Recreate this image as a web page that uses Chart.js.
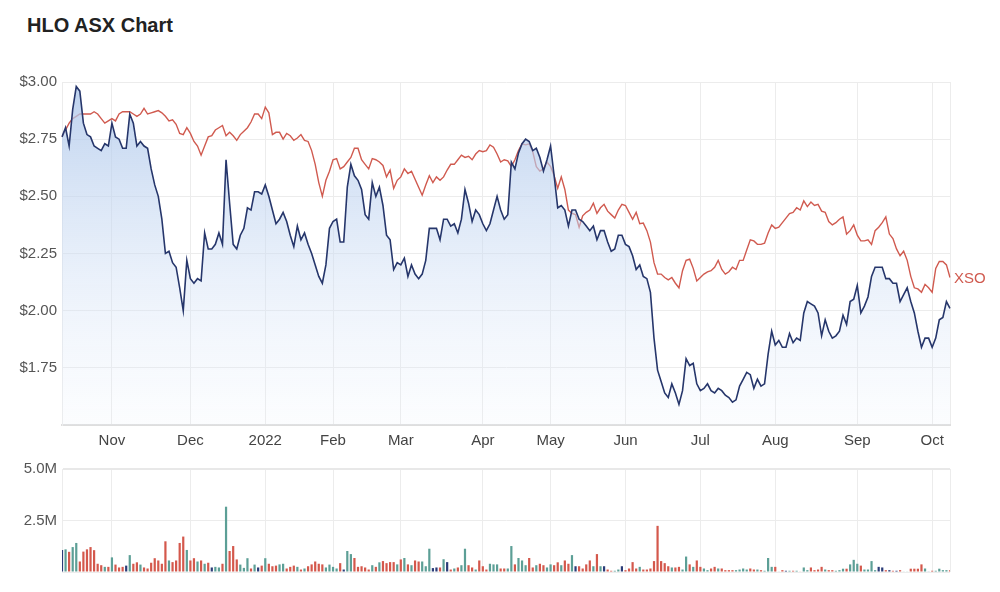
<!DOCTYPE html>
<html>
<head>
<meta charset="utf-8">
<script src="https://cdn.jsdelivr.net/npm/chart.js@4/dist/chart.umd.min.js"></script>
<style>
  body { margin: 0; background: #fff; width: 1000px; height: 592px; overflow: hidden; position: relative; }
  h1 { position: absolute; left: 27px; top: 14px; margin: 0; font: bold 20px "Liberation Sans", Arial, sans-serif; color: #222; }
  #priceBox { position: absolute; left: 0; top: 0; width: 1000px; height: 460px; }
  #volBox { position: absolute; left: 0; top: 455px; width: 1000px; height: 137px; }
</style>
</head>
<body>
<h1>HLO ASX Chart</h1>
<div id="priceBox"><canvas id="priceChart"></canvas></div>
<div id="volBox"><canvas id="volChart"></canvas></div>
<script>
// daily closes, Oct 2021 - Oct 2022 (trading days)
const hlo = [
  2.76, 2.80, 2.72, 2.88, 2.98, 2.96, 2.82, 2.77, 2.76, 2.72,
  2.71, 2.70, 2.73, 2.72, 2.82, 2.76, 2.75, 2.71, 2.71, 2.86,
  2.82, 2.72, 2.74, 2.72, 2.71, 2.62, 2.55, 2.50, 2.40, 2.25,
  2.26, 2.21, 2.19, 2.10, 2.00, 2.22, 2.14, 2.12, 2.14, 2.13,
  2.34, 2.27, 2.27, 2.29, 2.34, 2.29, 2.66, 2.47, 2.29, 2.27,
  2.33, 2.36, 2.45, 2.44, 2.52, 2.52, 2.51, 2.55, 2.50, 2.44,
  2.38, 2.40, 2.43, 2.39, 2.33, 2.28, 2.37, 2.31, 2.34, 2.29,
  2.25, 2.20, 2.15, 2.12, 2.20, 2.36, 2.39, 2.40, 2.30, 2.30,
  2.54, 2.64, 2.59, 2.57, 2.53, 2.42, 2.40, 2.56, 2.50, 2.54,
  2.46, 2.33, 2.31, 2.18, 2.21, 2.20, 2.23, 2.15, 2.20, 2.16,
  2.14, 2.16, 2.22, 2.36, 2.36, 2.36, 2.31, 2.40, 2.40, 2.37,
  2.38, 2.34, 2.40, 2.53, 2.47, 2.39, 2.44, 2.42, 2.38, 2.35,
  2.38, 2.44, 2.50, 2.44, 2.40, 2.42, 2.65, 2.62, 2.69, 2.73,
  2.75, 2.74, 2.70, 2.71, 2.67, 2.61, 2.66, 2.72, 2.59, 2.45,
  2.46, 2.44, 2.37, 2.44, 2.44, 2.40, 2.39, 2.37, 2.35, 2.37,
  2.31, 2.35, 2.35, 2.30, 2.26, 2.27, 2.33, 2.33, 2.29, 2.28,
  2.24, 2.18, 2.20, 2.15, 2.14, 2.08, 1.88, 1.74, 1.69, 1.64,
  1.62, 1.68, 1.64, 1.59, 1.65, 1.79, 1.76, 1.77, 1.68, 1.65,
  1.66, 1.68, 1.65, 1.64, 1.66, 1.65, 1.63, 1.62, 1.60, 1.61,
  1.67, 1.70, 1.73, 1.72, 1.66, 1.70, 1.67, 1.68, 1.81, 1.91,
  1.85, 1.87, 1.84, 1.84, 1.90, 1.86, 1.88, 1.87, 1.99, 2.04,
  2.03, 2.02, 1.99, 1.89, 1.96, 1.91, 1.88, 1.89, 1.91, 1.98,
  1.94, 2.04, 2.05, 2.11, 1.99, 2.02, 2.06, 2.15, 2.19, 2.19,
  2.19, 2.14, 2.14, 2.12, 2.12, 2.04, 2.07, 2.10, 2.04, 1.99,
  1.91, 1.84, 1.88, 1.88, 1.84, 1.88, 1.96, 1.97, 2.04, 2.01
];

// XSO index, rebased to HLO start price
const xso = [
  2.76, 2.79, 2.82, 2.84, 2.85, 2.86, 2.86, 2.86, 2.86, 2.87,
  2.86, 2.84, 2.82, 2.83, 2.84, 2.83, 2.86, 2.87, 2.87, 2.87,
  2.86, 2.85, 2.86, 2.885, 2.86, 2.865, 2.87, 2.875, 2.865, 2.85,
  2.83, 2.835, 2.815, 2.775, 2.77, 2.80, 2.775, 2.74, 2.72, 2.68,
  2.72, 2.76, 2.765, 2.79, 2.80, 2.81, 2.765, 2.78, 2.765, 2.745,
  2.77, 2.785, 2.80, 2.825, 2.86, 2.86, 2.84, 2.89, 2.865, 2.77,
  2.78, 2.78, 2.75, 2.775, 2.765, 2.745, 2.755, 2.77, 2.745, 2.74,
  2.70, 2.64, 2.56, 2.50, 2.57, 2.61, 2.66, 2.665, 2.62, 2.63,
  2.65, 2.67, 2.71, 2.71, 2.66, 2.64, 2.62, 2.665, 2.66, 2.65,
  2.635, 2.585, 2.615, 2.535, 2.57, 2.585, 2.62, 2.60, 2.61, 2.575,
  2.54, 2.505, 2.55, 2.59, 2.56, 2.585, 2.57, 2.585, 2.615, 2.64,
  2.64, 2.66, 2.68, 2.67, 2.675, 2.66, 2.685, 2.70, 2.695, 2.70,
  2.725, 2.715, 2.685, 2.65, 2.66, 2.655, 2.63, 2.66, 2.70, 2.73,
  2.725, 2.73, 2.695, 2.63, 2.61, 2.62, 2.65, 2.63, 2.59, 2.535,
  2.585, 2.53, 2.44, 2.425, 2.42, 2.365, 2.415, 2.43, 2.44, 2.47,
  2.425, 2.45, 2.465, 2.435, 2.42, 2.405, 2.44, 2.465, 2.46, 2.43,
  2.40, 2.43, 2.38, 2.383, 2.35, 2.30, 2.21, 2.16, 2.16, 2.145,
  2.135, 2.145, 2.12, 2.10, 2.175, 2.22, 2.225, 2.185, 2.13, 2.145,
  2.16, 2.17, 2.175, 2.19, 2.22, 2.18, 2.16, 2.17, 2.19, 2.18,
  2.22, 2.22, 2.265, 2.31, 2.305, 2.29, 2.29, 2.295, 2.34, 2.375,
  2.36, 2.365, 2.385, 2.405, 2.425, 2.43, 2.45, 2.44, 2.48, 2.455,
  2.475, 2.46, 2.465, 2.435, 2.43, 2.39, 2.375, 2.385, 2.40, 2.41,
  2.335, 2.35, 2.375, 2.33, 2.305, 2.305, 2.31, 2.29, 2.35, 2.365,
  2.385, 2.41, 2.335, 2.315, 2.27, 2.24, 2.26, 2.22, 2.15, 2.10,
  2.095, 2.08, 2.115, 2.10, 2.08, 2.185, 2.215, 2.215, 2.20, 2.145
];

// daily volume, millions of shares
const volume = [
  1.07, 1.10, 0.98, 1.21, 1.41, 0.51, 0.99, 1.10, 1.21, 1.06,
  0.40, 0.33, 0.25, 0.25, 0.71, 0.36, 0.22, 0.25, 0.31, 0.82,
  0.40, 0.47, 0.36, 0.22, 0.17, 0.45, 0.67, 0.56, 0.40, 1.49,
  0.56, 0.48, 0.56, 1.41, 1.72, 1.07, 0.56, 0.67, 0.51, 0.56,
  0.40, 0.45, 0.22, 0.25, 0.22, 0.40, 3.17, 1.02, 1.26, 0.61,
  0.36, 0.20, 0.67, 0.17, 0.36, 0.22, 0.31, 0.67, 0.40, 0.28,
  0.31, 0.37, 0.40, 0.17, 0.25, 0.31, 0.25, 0.12, 0.17, 0.28,
  0.37, 0.51, 0.40, 0.37, 0.22, 0.36, 0.25, 0.17, 0.43, 0.12,
  1.02, 0.87, 0.68, 0.25, 0.28, 0.22, 0.12, 0.33, 0.25, 0.47,
  0.53, 0.43, 0.48, 0.48, 0.37, 0.61, 0.68, 0.37, 0.33, 0.56,
  0.51, 0.51, 0.28, 1.13, 0.19, 0.22, 0.22, 0.62, 0.48, 0.12,
  0.17, 0.22, 0.33, 1.13, 0.33, 0.22, 0.12, 0.56, 0.28, 0.12,
  0.40, 0.37, 0.37, 0.17, 0.17, 0.17, 1.26, 0.37, 0.68, 0.56,
  0.33, 0.68, 0.22, 0.33, 0.40, 0.33, 0.22, 0.37, 0.33, 0.47,
  0.33, 0.56, 0.40, 0.82, 0.28, 0.28, 0.17, 0.37, 0.56, 0.28,
  0.87, 0.28, 0.28, 0.12, 0.06, 0.06, 0.12, 0.28, 0.09, 0.17,
  0.48, 0.17, 0.25, 0.12, 0.12, 0.17, 0.53, 2.24, 0.53, 0.43,
  0.28, 0.22, 0.22, 0.25, 0.12, 0.75, 0.37, 0.25, 0.56, 0.25,
  0.17, 0.09, 0.17, 0.25, 0.17, 0.17, 0.09, 0.09, 0.09, 0.09,
  0.12, 0.17, 0.12, 0.17, 0.12, 0.12, 0.09, 0.06, 0.68, 0.25,
  0.25, 0.03, 0.09, 0.06, 0.06, 0.06, 0.06, 0.03, 0.22, 0.09,
  0.22, 0.09, 0.12, 0.25, 0.12, 0.09, 0.09, 0.06, 0.09, 0.16,
  0.16, 0.37, 0.59, 0.40, 0.31, 0.12, 0.12, 0.53, 0.09, 0.25,
  0.22, 0.09, 0.09, 0.06, 0.06, 0.09, 0.03, 0.03, 0.16, 0.16,
  0.16, 0.37, 0.17, 0.03, 0.06, 0.06, 0.16, 0.09, 0.09, 0.09
];

// first trading day of each month (index) and its label
const tickIndex = [14, 36, 57, 76, 95, 118, 137, 158, 179, 200, 223, 244];
const tickLabels = ['Nov', 'Dec', '2022', 'Feb', 'Mar', 'Apr', 'May', 'Jun', 'Jul', 'Aug', 'Sep', 'Oct'];

const days = hlo.map((v, i) => i);
const lastIdx = hlo.length - 1;

const NAVY = '#26366b';
const RED = '#d05a4f';
const UP = '#5c9f96';
const DOWN = '#d4584c';
const FLAT = '#2b3c78';
const GRID = '#ececec';
const FONT = { family: '"Liberation Sans", Arial, sans-serif', size: 15 };

const volColors = volume.map((v, i) => {
  if (i === 0 || hlo[i] === hlo[i - 1]) return FLAT;
  return hlo[i] > hlo[i - 1] ? UP : DOWN;
});

function monthTicks(axis) {
  axis.ticks = [0].concat(tickIndex, [lastIdx]).map(v => ({ value: v }));
}
function monthLabel(value) {
  const k = tickIndex.indexOf(value);
  return k >= 0 ? tickLabels[k] : '';
}

const xsoLabel = {
  id: 'xsoLabel',
  afterDatasetsDraw(chart) {
    const meta = chart.getDatasetMeta(1);
    const pt = meta.data[meta.data.length - 1];
    const ctx = chart.ctx;
    ctx.save();
    ctx.font = '15px "Liberation Sans", Arial, sans-serif';
    ctx.fillStyle = RED;
    ctx.textBaseline = 'middle';
    ctx.fillText('XSO', pt.x + 4, pt.y + 1);
    ctx.restore();
  }
};

new Chart(document.getElementById('priceChart').getContext('2d'), {
  type: 'line',
  data: {
    labels: days,
    datasets: [
      {
        label: 'HLO',
        data: hlo,
        borderColor: NAVY,
        borderWidth: 1.6,
        pointRadius: 0,
        tension: 0,
        fill: 'origin',
        backgroundColor: ctx => {
          const area = ctx.chart.chartArea;
          if (!area) return 'rgba(190,210,236,0.6)';
          const g = ctx.chart.ctx.createLinearGradient(0, area.top, 0, area.bottom);
          g.addColorStop(0, 'rgba(172,198,234,0.8)');
          g.addColorStop(1, 'rgba(232,240,252,0.15)');
          return g;
        },
        order: 1
      },
      {
        label: 'XSO',
        data: xso,
        borderColor: RED,
        borderWidth: 1.4,
        pointRadius: 0,
        tension: 0,
        fill: false,
        order: 2
      }
    ]
  },
  options: {
    responsive: true,
    maintainAspectRatio: false,
    animation: false,
    layout: { padding: { top: 82, right: 50, left: 0, bottom: 0 } },
    plugins: { legend: { display: false }, tooltip: { enabled: false } },
    scales: {
      x: {
        type: 'category',
        offset: false,
        afterBuildTicks: monthTicks,
        afterFit: s => { s.height = 35; },
        grid: { color: GRID, drawTicks: false },
        border: { color: '#dedede', width: 2 },
        ticks: {
          autoSkip: false,
          maxRotation: 0,
          padding: 7,
          color: '#444',
          font: FONT,
          callback: monthLabel
        }
      },
      y: {
        min: 1.5,
        max: 3.0,
        afterFit: s => { s.width = 62; },
        grid: { color: GRID, drawTicks: false },
        border: { color: GRID },
        ticks: {
          stepSize: 0.25,
          padding: 5,
          color: '#555',
          font: FONT,
          callback: v => v === 1.5 ? '' : '$' + v.toFixed(2)
        }
      }
    }
  },
  plugins: [xsoLabel]
});

new Chart(document.getElementById('volChart').getContext('2d'), {
  type: 'bar',
  data: {
    labels: days,
    datasets: [{
      label: 'Volume',
      data: volume.map(v => v * 1e6),
      backgroundColor: volColors,
      borderWidth: 0,
      categoryPercentage: 1,
      barPercentage: 0.62
    }]
  },
  options: {
    responsive: true,
    maintainAspectRatio: false,
    animation: false,
    layout: { padding: { top: 10, right: 50, left: 0, bottom: 20 } },
    plugins: { legend: { display: false }, tooltip: { enabled: false } },
    scales: {
      x: {
        type: 'category',
        offset: false,
        afterBuildTicks: monthTicks,
        afterFit: s => { s.height = 0; },
        grid: { color: GRID, drawTicks: false, offset: false },
        border: { display: false },
        ticks: { display: false, autoSkip: false }
      },
      y: {
        min: 0,
        max: 5e6,
        afterFit: s => { s.width = 62; },
        grid: { color: ctx => ctx.tick && ctx.tick.value === 5e6 ? '#e8e8e8' : GRID, lineWidth: ctx => ctx.tick && ctx.tick.value === 5e6 ? 2 : 1, drawTicks: false },
        border: { color: GRID },
        ticks: {
          stepSize: 2.5e6,
          padding: 5,
          color: '#555',
          font: FONT,
          callback: v => v === 0 ? '' : (v / 1e6).toFixed(1) + 'M'
        }
      }
    }
  }
});
</script>
</body>
</html>
